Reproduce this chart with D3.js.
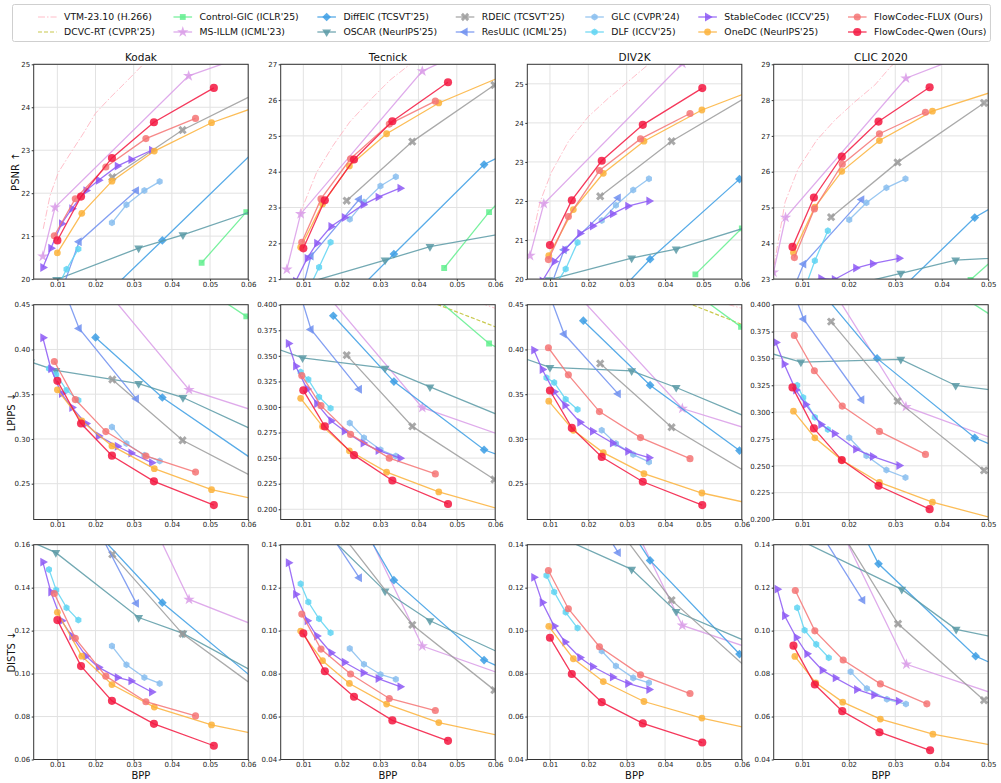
<!DOCTYPE html>
<html>
<head>
<meta charset="utf-8">
<script src="https://cdn.jsdelivr.net/npm/d3@7"></script>
<style>
  body { margin: 0; background: #fff; }
  text { font-family: "DejaVu Sans", sans-serif; }
</style>
</head>
<body>
<svg id="chart" width="1001" height="783"></svg>
<script>
'use strict';

// method keys in legend order (column-major, two rows)
const methodKeys = ['vtm', 'dcvc', 'cgic', 'msillm', 'diffeic', 'oscar', 'rdeic', 'resulic', 'glc', 'dlf', 'stable', 'onedc', 'flux', 'qwen'];
const methodLabels = ["VTM-23.10 (H.266)", "DCVC-RT (CVPR'25)", "Control-GIC (ICLR'25)", "MS-ILLM (ICML'23)",
    "DiffEIC (TCSVT'25)", "OSCAR (NeurIPS'25)", "RDEIC (TCSVT'25)", "ResULIC (ICML'25)",
    "GLC (CVPR'24)", "DLF (ICCV'25)", "StableCodec (ICCV'25)", "OneDC (NeurIPS'25)",
    "FlowCodec-FLUX (Ours)", "FlowCodec-Qwen (Ours)"];

const datasets = ['Kodak', 'Tecnick', 'DIV2K', 'CLIC 2020'];
const metricLabels = ['PSNR \u2191', 'LPIPS \u2193', 'DISTS \u2193'];

// axis ranges and ticks
const xDomains = [[0.0038, 0.06], [0.0041, 0.06], [0.0041, 0.06], [0.00385, 0.05]];
const xTicks = [[0.01, 0.02, 0.03, 0.04, 0.05, 0.06], [0.01, 0.02, 0.03, 0.04, 0.05, 0.06],
    [0.01, 0.02, 0.03, 0.04, 0.05, 0.06], [0.01, 0.02, 0.03, 0.04, 0.05]];
const yDomains = [
    [[20, 25], [21, 27], [20, 25.5], [23, 29]],
    [[0.21, 0.45], [0.19, 0.40], [0.21, 0.45], [0.20, 0.40]],
    [[0.06, 0.16], [0.04, 0.14], [0.04, 0.14], [0.04, 0.14]]
];
const yTicks = [
    [[20, 21, 22, 23, 24, 25], [21, 22, 23, 24, 25, 26, 27], [20, 21, 22, 23, 24, 25], [23, 24, 25, 26, 27, 28, 29]],
    [[0.25, 0.30, 0.35, 0.40, 0.45], [0.200, 0.225, 0.250, 0.275, 0.300, 0.325, 0.350, 0.375, 0.400],
     [0.25, 0.30, 0.35, 0.40, 0.45], [0.200, 0.225, 0.250, 0.275, 0.300, 0.325, 0.350, 0.375, 0.400]],
    [[0.06, 0.08, 0.10, 0.12, 0.14, 0.16], [0.04, 0.06, 0.08, 0.10, 0.12, 0.14],
     [0.04, 0.06, 0.08, 0.10, 0.12, 0.14], [0.04, 0.06, 0.08, 0.10, 0.12, 0.14]]
];
const yFormats = [['d', 'd', 'd', 'd'], ['.2f', '.3f', '.2f', '.3f'], ['.2f', '.2f', '.2f', '.2f']];

// ---- PSNR data: [bpp, value] ----
const psnrKodak = {
    vtm: [[0.0063, 21.17], [0.0081, 21.95], [0.0103, 22.49], [0.0138, 22.98], [0.0168, 23.39], [0.020, 23.86], [0.0238, 24.22], [0.0281, 24.6], [0.0325, 25.0], [0.04, 25.5]],
    cgic: [[0.0478, 20.38], [0.0595, 21.56], [0.07, 22.5]],
    msillm: [[0.0062, 20.53], [0.0094, 21.67], [0.0444, 24.73], [0.07, 25.53]],
    diffeic: [[0.02, 19.4], [0.0375, 20.9], [0.07, 23.7]],
    oscar: [[0.0098, 19.99], [0.0313, 20.72], [0.0429, 21.03], [0.07, 21.85]],
    rdeic: [[0.0244, 22.37], [0.0428, 23.47], [0.065, 24.45]],
    resulic: [[0.011, 19.7], [0.0157, 20.87], [0.0307, 22.06]],
    glc: [[0.0243, 21.31], [0.0281, 21.73], [0.0328, 22.06], [0.0368, 22.27]],
    dlf: [[0.0078, 19.5], [0.0097, 19.75], [0.0124, 20.23], [0.0155, 20.7]],
    stable: [[0.0062, 20.27], [0.0083, 20.72], [0.0111, 21.29], [0.0138, 21.64], [0.0175, 22.06], [0.0208, 22.3], [0.0257, 22.63], [0.0293, 22.78], [0.0347, 23.0]],
    onedc: [[0.01, 20.61], [0.0164, 21.53], [0.0243, 22.28], [0.0354, 22.98], [0.0504, 23.64], [0.065, 24.1]],
    flux: [[0.0092, 21.01], [0.0147, 21.87], [0.0227, 22.61], [0.0332, 23.27], [0.0462, 23.74]],
    qwen: [[0.01, 20.9], [0.0162, 21.92], [0.0243, 22.82], [0.0353, 23.65], [0.051, 24.45]]
};
const psnrTecnick = {
    vtm: [[0.0091, 22.82], [0.0135, 23.99], [0.0178, 24.74], [0.0221, 25.39], [0.0274, 26.0], [0.0326, 26.56], [0.0378, 27.0], [0.045, 27.5]],
    cgic: [[0.0467, 21.31], [0.0584, 22.87], [0.065, 23.6]],
    msillm: [[0.0057, 21.27], [0.0093, 22.82], [0.041, 26.81], [0.055, 27.5]],
    diffeic: [[0.0178, 20.0], [0.0336, 21.7], [0.0571, 24.2], [0.07, 24.9]],
    oscar: [[0.0098, 20.86], [0.0313, 21.53], [0.043, 21.91], [0.07, 22.42]],
    rdeic: [[0.0213, 23.19], [0.0384, 24.84], [0.0598, 26.42]],
    resulic: [[0.0092, 20.5], [0.012, 21.64], [0.0246, 23.23]],
    glc: [[0.0221, 22.67], [0.0258, 23.15], [0.0301, 23.6], [0.0341, 23.86]],
    dlf: [[0.0093, 20.2], [0.0113, 20.7], [0.0141, 21.33], [0.0171, 22.03]],
    stable: [[0.0061, 20.5], [0.008, 20.94], [0.011, 21.58], [0.0135, 22.0], [0.0172, 22.47], [0.0207, 22.72], [0.0256, 23.08], [0.0295, 23.29], [0.0352, 23.54]],
    onedc: [[0.0093, 21.89], [0.015, 23.1], [0.022, 24.16], [0.0317, 25.06], [0.0453, 25.92], [0.065, 26.81]],
    flux: [[0.0096, 22.03], [0.0146, 23.24], [0.0223, 24.36], [0.0324, 25.33], [0.0444, 25.97]],
    qwen: [[0.01, 21.86], [0.0156, 23.2], [0.0232, 24.34], [0.0332, 25.41], [0.0477, 26.5]]
};
const psnrDiv2k = {
    vtm: [[0.0057, 21.2], [0.0074, 21.97], [0.0104, 22.74], [0.0148, 23.52], [0.02, 24.16], [0.0252, 24.63], [0.0304, 25.06], [0.0357, 25.5], [0.045, 26.1]],
    cgic: [[0.0479, 20.12], [0.06, 21.3], [0.065, 21.8]],
    msillm: [[0.0048, 20.6], [0.0084, 21.93], [0.0445, 25.52], [0.065, 26.3]],
    diffeic: [[0.0187, 18.7], [0.0361, 20.51], [0.0594, 22.56]],
    oscar: [[0.0097, 19.98], [0.0313, 20.54], [0.0429, 20.77], [0.07, 21.59]],
    rdeic: [[0.0231, 22.12], [0.0417, 23.53], [0.065, 24.88]],
    resulic: [[0.0098, 19.7], [0.0137, 20.75], [0.0278, 22.08]],
    glc: [[0.0235, 21.5], [0.0272, 21.89], [0.0317, 22.28], [0.0358, 22.57]],
    dlf: [[0.0091, 19.3], [0.0111, 19.8], [0.0141, 20.26], [0.0172, 20.94]],
    stable: [[0.0058, 19.4], [0.008, 19.95], [0.0111, 20.45], [0.0139, 20.75], [0.0178, 21.17], [0.0211, 21.36], [0.0263, 21.67], [0.0303, 21.87], [0.0358, 22.0]],
    onedc: [[0.0097, 20.6], [0.0161, 21.78], [0.0239, 22.71], [0.0345, 23.53], [0.0496, 24.33], [0.065, 24.91]],
    flux: [[0.0096, 20.5], [0.0148, 21.6], [0.0229, 22.78], [0.0336, 23.59], [0.0465, 24.24]],
    qwen: [[0.01, 20.87], [0.0157, 22.02], [0.0235, 23.03], [0.0342, 23.95], [0.0497, 24.89]]
};
const psnrClic = {
    vtm: [[0.003, 22.7], [0.0063, 25.15], [0.0091, 26.08], [0.0131, 26.88], [0.017, 27.44], [0.0213, 27.95], [0.0256, 28.42], [0.0292, 28.96], [0.036, 29.6]],
    cgic: [[0.0462, 22.98], [0.055, 24.0]],
    msillm: [[0.0038, 23.19], [0.0064, 24.72], [0.0323, 28.61], [0.05, 29.5]],
    diffeic: [[0.0261, 22.07], [0.0471, 24.72], [0.06, 25.7]],
    oscar: [[0.0097, 22.5], [0.0312, 23.16], [0.043, 23.53], [0.06, 23.65]],
    rdeic: [[0.0162, 24.73], [0.0305, 26.26], [0.0491, 27.92]],
    resulic: [[0.008, 22.7], [0.0103, 23.42], [0.0228, 25.22]],
    glc: [[0.0201, 24.66], [0.0238, 25.13], [0.0281, 25.55], [0.0322, 25.8]],
    dlf: [[0.0089, 22.3], [0.0105, 22.72], [0.0127, 23.51], [0.0155, 24.35]],
    stable: [[0.0043, 22.2], [0.0061, 22.5], [0.0086, 22.75], [0.0107, 22.88], [0.014, 23.02], [0.0169, 22.99], [0.0215, 23.31], [0.0251, 23.43], [0.0308, 23.58]],
    onedc: [[0.0081, 23.74], [0.0127, 25.01], [0.0185, 26.01], [0.0266, 26.87], [0.038, 27.69], [0.055, 28.4]],
    flux: [[0.0083, 23.6], [0.0126, 24.96], [0.0186, 26.21], [0.0266, 27.06], [0.0365, 27.66]],
    qwen: [[0.0079, 23.9], [0.0125, 25.28], [0.0185, 26.42], [0.0264, 27.4], [0.0374, 28.36]]
};

// ---- LPIPS data ----
const lpipsKodak = {
    cgic: [[0.0478, 0.47], [0.0595, 0.437], [0.07, 0.41]],
    msillm: [[0.0062, 0.6], [0.0094, 0.535], [0.0445, 0.355], [0.07, 0.32]],
    diffeic: [[0.02, 0.4134], [0.0375, 0.3463], [0.07, 0.2514]],
    oscar: [[0.003, 0.386], [0.0096, 0.3765], [0.0313, 0.3619], [0.0429, 0.3463], [0.07, 0.293]],
    rdeic: [[0.0244, 0.3664], [0.0428, 0.2985], [0.065, 0.2493]],
    resulic: [[0.011, 0.475], [0.0157, 0.4235], [0.0307, 0.3448]],
    glc: [[0.0243, 0.3134], [0.0281, 0.2948], [0.0328, 0.2817], [0.0368, 0.2754]],
    dlf: [[0.0078, 0.3787], [0.0097, 0.372], [0.0124, 0.3545], [0.0155, 0.3433]],
    stable: [[0.0062, 0.4131], [0.0083, 0.3784], [0.0111, 0.3507], [0.0138, 0.3351], [0.0175, 0.3172], [0.0208, 0.3034], [0.0257, 0.2918], [0.0293, 0.2843], [0.0347, 0.2735]],
    onedc: [[0.01, 0.3549], [0.0164, 0.3201], [0.0243, 0.2922], [0.0354, 0.2668], [0.0504, 0.2433], [0.065, 0.2296]],
    flux: [[0.0092, 0.3866], [0.0147, 0.344], [0.0227, 0.3082], [0.0332, 0.281], [0.0462, 0.263]],
    qwen: [[0.01, 0.3649], [0.0162, 0.3172], [0.0243, 0.2813], [0.0353, 0.2526], [0.051, 0.2261]]
};
const lpipsTecnick = {
    vtm: [[0.05, 0.41], [0.07, 0.383]],
    dcvc: [[0.042, 0.4045], [0.07, 0.364]],
    cgic: [[0.045, 0.405], [0.0584, 0.3621], [0.07, 0.34]],
    msillm: [[0.0057, 0.47], [0.0093, 0.44], [0.041, 0.2993], [0.07, 0.2614]],
    diffeic: [[0.0178, 0.3892], [0.0336, 0.3248], [0.0571, 0.2582], [0.07, 0.2404]],
    oscar: [[0.003, 0.357], [0.0098, 0.348], [0.0313, 0.3379], [0.043, 0.3196], [0.07, 0.278]],
    rdeic: [[0.0213, 0.3507], [0.0384, 0.281], [0.0598, 0.2291]],
    resulic: [[0.0092, 0.41], [0.012, 0.3758], [0.0246, 0.3173]],
    glc: [[0.0221, 0.2843], [0.0258, 0.27], [0.0301, 0.2582], [0.0341, 0.252]],
    dlf: [[0.0093, 0.3343], [0.0113, 0.3268], [0.0141, 0.3098], [0.0171, 0.2987]],
    stable: [[0.0061, 0.3621], [0.008, 0.3399], [0.011, 0.3176], [0.0135, 0.3033], [0.0172, 0.2866], [0.0207, 0.2765], [0.0256, 0.2647], [0.0295, 0.2575], [0.0352, 0.25]],
    onedc: [[0.0093, 0.3085], [0.015, 0.281], [0.022, 0.2572], [0.0317, 0.2363], [0.0453, 0.217], [0.065, 0.196]],
    flux: [[0.0096, 0.3307], [0.0146, 0.3013], [0.0223, 0.2732], [0.0324, 0.25], [0.0444, 0.2346]],
    qwen: [[0.01, 0.3163], [0.0156, 0.281], [0.0232, 0.2529], [0.0332, 0.2281], [0.0477, 0.2052]]
};
const lpipsDiv2k = {
    vtm: [[0.05, 0.458], [0.07, 0.434]],
    dcvc: [[0.04, 0.462], [0.07, 0.411]],
    cgic: [[0.0479, 0.4625], [0.0598, 0.4252], [0.07, 0.40]],
    msillm: [[0.0048, 0.53], [0.0084, 0.502], [0.0445, 0.334], [0.07, 0.3001]],
    diffeic: [[0.0187, 0.4321], [0.0361, 0.3601], [0.0594, 0.287]],
    oscar: [[0.003, 0.3904], [0.01, 0.3799], [0.0313, 0.3761], [0.0429, 0.3575], [0.07, 0.309]],
    rdeic: [[0.0231, 0.3843], [0.0417, 0.3131], [0.065, 0.2531]],
    resulic: [[0.0098, 0.462], [0.0137, 0.4172], [0.0278, 0.3504]],
    glc: [[0.0235, 0.3097], [0.0272, 0.2948], [0.0317, 0.2825], [0.0358, 0.2743]],
    dlf: [[0.0091, 0.3683], [0.0111, 0.3631], [0.0141, 0.3444], [0.0172, 0.3328]],
    stable: [[0.0058, 0.3993], [0.008, 0.3776], [0.0111, 0.3526], [0.0139, 0.3377], [0.0178, 0.3187], [0.0211, 0.3086], [0.0263, 0.2955], [0.0303, 0.2862], [0.0358, 0.2791]],
    onedc: [[0.0097, 0.3422], [0.0161, 0.3097], [0.0239, 0.2847], [0.0345, 0.2612], [0.0496, 0.2396], [0.065, 0.2252]],
    flux: [[0.0096, 0.4019], [0.0148, 0.3716], [0.0229, 0.3306], [0.0336, 0.3015], [0.0465, 0.278]],
    qwen: [[0.01, 0.3541], [0.0157, 0.3123], [0.0235, 0.2799], [0.0342, 0.2522], [0.0497, 0.2261]]
};
const lpipsClic = {
    cgic: [[0.0462, 0.4025], [0.055, 0.378]],
    msillm: [[0.0038, 0.52], [0.0064, 0.484], [0.0323, 0.305], [0.055, 0.269]],
    diffeic: [[0.014, 0.4125], [0.0261, 0.35], [0.0471, 0.2761], [0.06, 0.2525]],
    oscar: [[0.003, 0.355], [0.0097, 0.3466], [0.0312, 0.3491], [0.043, 0.3248], [0.06, 0.3158]],
    rdeic: [[0.0162, 0.3842], [0.0305, 0.3102], [0.0491, 0.2457]],
    resulic: [[0.008, 0.413], [0.0103, 0.3866], [0.0228, 0.3115]],
    glc: [[0.0201, 0.2761], [0.0238, 0.2593], [0.0281, 0.246], [0.0322, 0.2391]],
    dlf: [[0.0089, 0.325], [0.0102, 0.3137], [0.0127, 0.2953], [0.0155, 0.2839]],
    stable: [[0.0043, 0.3649], [0.0061, 0.3447], [0.0086, 0.3205], [0.0107, 0.3071], [0.014, 0.2885], [0.0169, 0.2801], [0.0215, 0.2655], [0.0251, 0.2587], [0.0308, 0.2503]],
    onedc: [[0.0081, 0.3009], [0.0127, 0.2761], [0.0185, 0.2553], [0.0266, 0.2345], [0.038, 0.2161], [0.055, 0.1968]],
    flux: [[0.0083, 0.3714], [0.0126, 0.3385], [0.0186, 0.3056], [0.0266, 0.282], [0.0365, 0.2606]],
    qwen: [[0.0079, 0.323], [0.0125, 0.2848], [0.0185, 0.2553], [0.0264, 0.2314], [0.0374, 0.2096]]
};

// ---- DISTS data ----
const distsKodak = {
    msillm: [[0.0094, 0.265], [0.0445, 0.1345], [0.07, 0.1167]],
    diffeic: [[0.02, 0.1663], [0.0375, 0.133], [0.07, 0.085]],
    oscar: [[0.003, 0.1615], [0.0096, 0.1563], [0.0313, 0.1261], [0.0429, 0.1187], [0.07, 0.0926]],
    rdeic: [[0.0244, 0.1555], [0.0428, 0.1185], [0.065, 0.0897]],
    resulic: [[0.011, 0.2], [0.0157, 0.184], [0.0307, 0.1327]],
    glc: [[0.0243, 0.1128], [0.0281, 0.1041], [0.0328, 0.0982], [0.0368, 0.0954]],
    dlf: [[0.0078, 0.1485], [0.0097, 0.1389], [0.0124, 0.1307], [0.0155, 0.1249]],
    stable: [[0.0062, 0.1519], [0.0083, 0.138], [0.0111, 0.1246], [0.0138, 0.1175], [0.0175, 0.1081], [0.0208, 0.1029], [0.0257, 0.0982], [0.0293, 0.0966], [0.0347, 0.0914]],
    onedc: [[0.01, 0.1285], [0.0164, 0.1081], [0.0243, 0.0949], [0.0354, 0.0844], [0.0504, 0.0761], [0.065, 0.0708]],
    flux: [[0.0092, 0.1373], [0.0147, 0.1164], [0.0227, 0.0988], [0.0332, 0.0869], [0.0462, 0.0803]],
    qwen: [[0.01, 0.1249], [0.0162, 0.1035], [0.0243, 0.0873], [0.0353, 0.0766], [0.051, 0.0664]]
};
const distsTecnick = {
    msillm: [[0.0093, 0.21], [0.041, 0.0928], [0.07, 0.0745]],
    diffeic: [[0.0178, 0.172], [0.0336, 0.1235], [0.0571, 0.0863], [0.07, 0.0756]],
    oscar: [[0.0098, 0.156], [0.0313, 0.1184], [0.043, 0.1046], [0.07, 0.0824]],
    rdeic: [[0.0213, 0.1419], [0.0384, 0.1027], [0.0598, 0.0723]],
    resulic: [[0.0092, 0.17], [0.012, 0.1584], [0.0246, 0.1246]],
    glc: [[0.0221, 0.0917], [0.0258, 0.0843], [0.0301, 0.0796], [0.0341, 0.0774]],
    dlf: [[0.0093, 0.1218], [0.0113, 0.1133], [0.0141, 0.1055], [0.0171, 0.099]],
    stable: [[0.0061, 0.1316], [0.008, 0.1169], [0.011, 0.1046], [0.0135, 0.0975], [0.0172, 0.0897], [0.0207, 0.0853], [0.0256, 0.0804], [0.0295, 0.0777], [0.0352, 0.0739]],
    onedc: [[0.0093, 0.0998], [0.015, 0.086], [0.022, 0.0754], [0.0317, 0.0658], [0.0453, 0.0572], [0.065, 0.0496]],
    flux: [[0.0096, 0.1077], [0.0146, 0.0914], [0.0223, 0.0798], [0.0324, 0.0684], [0.0444, 0.0628]],
    qwen: [[0.01, 0.0987], [0.0156, 0.0811], [0.0232, 0.0692], [0.0332, 0.0582], [0.0477, 0.0487]]
};
const distsDiv2k = {
    msillm: [[0.0084, 0.235], [0.0445, 0.1024], [0.07, 0.0871]],
    diffeic: [[0.0187, 0.181], [0.0361, 0.1327], [0.0594, 0.0891]],
    oscar: [[0.01, 0.1456], [0.0313, 0.1285], [0.0429, 0.1089], [0.07, 0.0883]],
    rdeic: [[0.0231, 0.1586], [0.0417, 0.1142], [0.065, 0.0766]],
    resulic: [[0.0098, 0.19], [0.0137, 0.1765], [0.0278, 0.1363]],
    glc: [[0.0235, 0.0905], [0.0272, 0.0835], [0.0317, 0.078], [0.0358, 0.0757]],
    dlf: [[0.0091, 0.1257], [0.0111, 0.118], [0.0141, 0.1085], [0.0172, 0.1012]],
    stable: [[0.0058, 0.1248], [0.008, 0.1131], [0.0111, 0.1021], [0.0139, 0.0947], [0.0178, 0.0875], [0.0211, 0.0833], [0.0263, 0.0784], [0.0303, 0.0754], [0.0358, 0.0726]],
    onedc: [[0.0097, 0.102], [0.0161, 0.0869], [0.0239, 0.0763], [0.0345, 0.067], [0.0496, 0.0593], [0.065, 0.0532]],
    flux: [[0.0096, 0.128], [0.0148, 0.1102], [0.0229, 0.0925], [0.0336, 0.0794], [0.0465, 0.0707]],
    qwen: [[0.01, 0.0967], [0.0157, 0.0798], [0.0235, 0.0667], [0.0342, 0.0568], [0.0497, 0.0479]]
};
const distsClic = {
    msillm: [[0.0038, 0.22], [0.0064, 0.2], [0.0324, 0.0843], [0.055, 0.0679]],
    diffeic: [[0.014, 0.183], [0.0264, 0.1311], [0.0473, 0.0881], [0.06, 0.0759]],
    oscar: [[0.003, 0.149], [0.0097, 0.1419], [0.0314, 0.1192], [0.0431, 0.1006], [0.06, 0.093]],
    rdeic: [[0.0162, 0.1536], [0.0306, 0.1032], [0.0491, 0.0676]],
    resulic: [[0.008, 0.166], [0.0103, 0.158], [0.023, 0.1142]],
    glc: [[0.0204, 0.0808], [0.0239, 0.0731], [0.0282, 0.068], [0.0323, 0.0658]],
    dlf: [[0.0089, 0.1107], [0.0105, 0.1002], [0.013, 0.0936], [0.0157, 0.0874]],
    stable: [[0.0046, 0.1193], [0.0062, 0.1069], [0.0087, 0.0968], [0.011, 0.0892], [0.0143, 0.0816], [0.0171, 0.078], [0.0217, 0.0726], [0.0254, 0.07], [0.0307, 0.0672]],
    onedc: [[0.0084, 0.088], [0.0129, 0.0757], [0.0187, 0.0667], [0.0268, 0.0588], [0.0381, 0.0518], [0.055, 0.045]],
    flux: [[0.0085, 0.1187], [0.0127, 0.0999], [0.0188, 0.0863], [0.0268, 0.0752], [0.0368, 0.0659]],
    qwen: [[0.0081, 0.093], [0.0127, 0.0749], [0.0186, 0.0625], [0.0266, 0.0527], [0.0375, 0.0443]]
};

const panelData = [
    [psnrKodak, psnrTecnick, psnrDiv2k, psnrClic],
    [lpipsKodak, lpipsTecnick, lpipsDiv2k, lpipsClic],
    [distsKodak, distsTecnick, distsDiv2k, distsClic]
];

// ---- styles ----
const hexagon = {
    draw(ctx, size) {
        const r = Math.sqrt(size / (1.5 * Math.sqrt(3)));
        for (let i = 0; i < 6; i++) {
            const a = Math.PI / 3 * i - Math.PI / 2;
            if (i === 0) ctx.moveTo(r * Math.cos(a), r * Math.sin(a));
            else ctx.lineTo(r * Math.cos(a), r * Math.sin(a));
        }
        ctx.closePath();
    }
};
const styles = {
    vtm:     { color: '#ffb3c0', dash: '7,2,1.5,2', marker: null, width: 1 },
    dcvc:    { color: '#bfbf2e', dash: '4,2', marker: null, width: 1.2 },
    cgic:    { color: '#62ee8e', marker: d3.symbolSquare, size: 34, rot: 0 },
    msillm:  { color: '#d99ce8', marker: d3.symbolStar, size: 40, rot: 0 },
    diffeic: { color: '#3c9de4', marker: d3.symbolSquare, size: 38, rot: 45 },
    oscar:   { color: '#5b9aa6', marker: d3.symbolTriangle, size: 34, rot: 180 },
    rdeic:   { color: '#9b9b9b', marker: d3.symbolCross, size: 44, rot: 45 },
    resulic: { color: '#6e8ff0', marker: d3.symbolTriangle, size: 34, rot: -90 },
    glc:     { color: '#87bdee', marker: hexagon, size: 32, rot: 0 },
    dlf:     { color: '#5ed3f2', marker: hexagon, size: 32, rot: 0 },
    stable:  { color: '#8c58f5', marker: d3.symbolTriangle, size: 34, rot: 90 },
    onedc:   { color: '#fbb13a', marker: d3.symbolCircle, size: 36, rot: 0 },
    flux:    { color: '#f47474', marker: d3.symbolCircle, size: 40, rot: 0 },
    qwen:    { color: '#f3163f', marker: d3.symbolCircle, size: 52, rot: 0 }
};

// ---- layout ----
const colLeft = [33.7, 280.7, 527.3, 773.7];
const rowTop = [64.3, 304.7, 544.7];
const pw = 214.5, ph = 214.8;
const yLabelOffset = [-18, -22.5, -22.5];

const svg = d3.select('#chart');
svg.append('rect').attr('width', 1001).attr('height', 783).attr('fill', '#fff');

const defs = svg.append('defs');

function drawPanel(r, c) {
    const x0 = colLeft[c], y0 = rowTop[r];
    const x = d3.scaleLinear().domain(xDomains[c]).range([0, pw]);
    const y = d3.scaleLinear().domain(yDomains[r][c]).range([ph, 0]);
    const g = svg.append('g').attr('transform', `translate(${x0},${y0})`);
    const clipId = `clip-${r}-${c}`;
    defs.append('clipPath').attr('id', clipId)
        .append('rect').attr('width', pw).attr('height', ph);

    // grid
    g.append('g').selectAll('line').data(xTicks[c]).join('line')
        .attr('x1', d => x(d)).attr('x2', d => x(d)).attr('y1', 0).attr('y2', ph)
        .attr('stroke', '#e2e2e2').attr('stroke-width', 1);
    g.append('g').selectAll('line').data(yTicks[r][c]).join('line')
        .attr('x1', 0).attr('x2', pw).attr('y1', d => y(d)).attr('y2', d => y(d))
        .attr('stroke', '#e2e2e2').attr('stroke-width', 1);

    // axes
    const xAxis = d3.axisBottom(x).tickValues(xTicks[c]).tickFormat(d3.format('.2f'))
        .tickSizeOuter(0).tickSize(2).tickPadding(1);
    const yAxis = d3.axisLeft(y).tickValues(yTicks[r][c]).tickFormat(d3.format(yFormats[r][c]))
        .tickSizeOuter(0).tickSize(2).tickPadding(1.5);
    const gx = g.append('g').attr('transform', `translate(0,${ph})`).call(xAxis);
    const gy = g.append('g').call(yAxis);
    [gx, gy].forEach(a => {
        a.select('.domain').remove();
        a.selectAll('line').attr('stroke', '#333');
        a.selectAll('text').attr('font-size', 7).attr('fill', '#222')
            .attr('font-family', '"DejaVu Sans", sans-serif');
    });

    // series
    const plot = g.append('g').attr('clip-path', `url(#${clipId})`);
    const data = panelData[r][c];
    const line = d3.line().x(d => x(d[0])).y(d => y(d[1]));
    methodKeys.forEach(k => {
        const pts = data[k];
        if (!pts) return;
        const s = styles[k];
        plot.append('path').datum(pts)
            .attr('d', line).attr('fill', 'none')
            .attr('stroke', s.color).attr('stroke-width', s.width || 1.3)
            .attr('stroke-dasharray', s.dash || null)
            .attr('opacity', 0.85);
        if (s.marker) {
            plot.append('g').selectAll('path').data(pts).join('path')
                .attr('d', d3.symbol().type(s.marker).size(s.size))
                .attr('transform', d => `translate(${x(d[0])},${y(d[1])}) rotate(${s.rot})`)
                .attr('fill', s.color).attr('opacity', 0.85);
        }
    });

    // frame
    g.append('rect').attr('width', pw).attr('height', ph)
        .attr('fill', 'none').attr('stroke', '#333').attr('stroke-width', 1);

    if (r === 0) {
        g.append('text').attr('x', pw / 2).attr('y', -3.5).attr('text-anchor', 'middle')
            .attr('font-size', 10.5).attr('fill', '#111').text(datasets[c]);
    }
    if (r === 2) {
        g.append('text').attr('x', pw / 2).attr('y', ph + 19.5).attr('text-anchor', 'middle')
            .attr('font-size', 10).attr('fill', '#111').text('BPP');
    }
    if (c === 0) {
        g.append('text').attr('transform', `translate(${yLabelOffset[r]},${ph / 2}) rotate(-90)`)
            .attr('text-anchor', 'middle').attr('dy', '0.35em')
            .attr('font-size', 10).attr('fill', '#111')
            .text(metricLabels[r]);
    }
}

for (let r = 0; r < 3; r++) {
    for (let c = 0; c < 4; c++) drawPanel(r, c);
}

// ---- legend: columns laid out from measured text widths ----
const legFont = 9.3;
const legend = svg.append('g');
const legBox = legend.append('rect').attr('x', 12.5).attr('y', 4.5).attr('height', 37)
    .attr('rx', 2).attr('fill', '#fff').attr('stroke', '#cfcfcf');
const legRowY = [17, 32];
const handleLen = 2 * legFont, textPad = 0.8 * legFont, colGap = 2 * legFont;
let colX = 38;
for (let col = 0; col < 7; col++) {
    let maxW = 0;
    for (let row = 0; row < 2; row++) {
        const i = col * 2 + row;
        const k = methodKeys[i];
        const s = styles[k];
        const ty = legRowY[row];
        legend.append('line').attr('x1', colX).attr('x2', colX + handleLen).attr('y1', ty).attr('y2', ty)
            .attr('stroke', s.color).attr('stroke-width', s.width || 1.3)
            .attr('stroke-dasharray', s.dash || null).attr('opacity', 0.85);
        if (s.marker) {
            legend.append('path').attr('d', d3.symbol().type(s.marker).size(s.size))
                .attr('transform', `translate(${colX + handleLen / 2},${ty}) rotate(${s.rot})`)
                .attr('fill', s.color).attr('opacity', 0.85);
        }
        const t = legend.append('text').attr('x', colX + handleLen + textPad).attr('y', ty).attr('dy', '0.35em')
            .attr('font-size', legFont).attr('fill', '#111').text(methodLabels[i]);
        maxW = Math.max(maxW, t.node().getComputedTextLength());
    }
    colX += handleLen + textPad + maxW + (col < 6 ? colGap : 0);
}
legBox.attr('width', Math.max(colX + 4 - 12.5, 100));
</script>
</body>
</html>
